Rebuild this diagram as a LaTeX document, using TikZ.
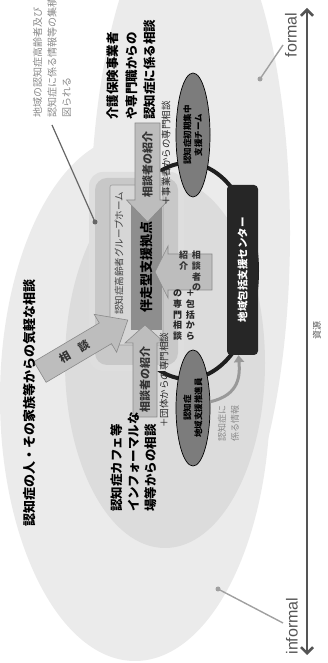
\documentclass[tikz,border=0pt]{standalone}
\usepackage{fontspec}
\setmainfont{Noto Sans CJK JP}
\newfontfamily\latinsans{Liberation Sans}
\usetikzlibrary{arrows.meta,shapes.geometric}
\definecolor{zoneA}{HTML}{EBEBEB}
\definecolor{zoneB}{HTML}{DCDCDC}
\definecolor{glowC}{HTML}{C8C8C8}
\definecolor{ghFill}{HTML}{D6D6D6}
\definecolor{ghEdge}{HTML}{9C9C9C}
\definecolor{hubFill}{HTML}{8E8E8E}
\definecolor{arrFill}{HTML}{BDBDBD}
\definecolor{arrEdge}{HTML}{8A8A8A}
\definecolor{ellFill}{HTML}{7C7C7C}
\definecolor{boxFill}{HTML}{262626}
\definecolor{leadGray}{HTML}{A0A0A0}
\definecolor{axisGray}{HTML}{555555}
\definecolor{noteGray}{HTML}{8A8A8A}
\begin{document}
\begin{tikzpicture}[x=1pt,y=-1pt,rotate=90,transform shape,
  blockarrow/.style={fill=arrFill,draw=arrEdge,line width=0.6pt,line join=miter},
  arrowtext/.style={font=\fontsize{11}{12}\selectfont\bfseries,text=black!80,inner sep=0pt},
  smalllabel/.style={font=\fontsize{9.5}{10}\selectfont,text=black!85,inner sep=0pt,anchor=west},
  tatetext/.style={rotate=-90,inner sep=0pt,font=\fontsize{9}{10}\selectfont\bfseries,text=black!80},
  bigtext/.style={font=\fontsize{12.5}{18}\selectfont\bfseries,align=left,inner sep=0pt,anchor=west},
  darkell/.style={ellipse,fill=ellFill,draw=black,line width=0.7pt,inner sep=0pt,align=center,font=\fontsize{8.5}{11}\selectfont\bfseries},
  ringline/.style={draw=black!88,line width=4pt},
  leader/.style={draw=leadGray,line width=1.4pt},
  leaderdot/.style={circle,fill=leadGray,inner sep=0pt,minimum size=5pt},
  notelead/.style={draw=black!60,line width=1.2pt},
  notedot/.style={circle,fill=black!60,inner sep=0pt,minimum size=5pt},
  infoarrow/.style={draw=black!40,line width=3pt,-{Triangle[length=7pt,width=10pt]}},
  axisline/.style={draw=axisGray,line width=2.5pt,{Straight Barb[length=6pt,width=12pt]}-{Straight Barb[length=6pt,width=12pt]}},
]
\useasboundingbox (0,0) rectangle (663,327);
\clip (0,0) rectangle (663,327);
% zones
\fill[zoneA] (430,190) ellipse [x radius=330pt, y radius=100pt];
\fill[zoneA] (265,135) ellipse [x radius=263pt, y radius=135pt];
\fill[zoneB] (300,165) ellipse [x radius=185pt, y radius=100pt];
% ring
\draw[ringline] (392,187) ellipse [x radius=108pt, y radius=70pt];
% glow
\fill[glowC!60, rounded corners=14pt] (292,89) rectangle (491,184);
\fill[glowC, rounded corners=12pt] (298,95) rectangle (485,178);
% group home box
\node[fill=ghFill,draw=ghEdge,line width=0.6pt,rounded corners=2pt,minimum width=160pt,minimum height=53pt,inner sep=0pt] (gh) at (398,136.5) {};
\node[font=\fontsize{9.5}{10}\selectfont,text=black!75,anchor=west,inner sep=0pt] (ghlabel) at (348,119) {認知症高齢者グループホーム};
\node[fill=hubFill,minimum width=125pt,minimum height=31pt,inner sep=0pt,font=\fontsize{13}{14}\selectfont\bfseries] (hub) at (395.5,146.5) {伴走型支援拠点};
% arrows
\filldraw[blockarrow] (540,135) -- (463,135) -- (463,126.5) -- (441,147.5) -- (463,168.5) -- (463,160) -- (540,160) -- cycle;
\node[arrowtext] (arrRtxt) at (498,147.5) {相談者の紹介};
\filldraw[blockarrow] (246,133) -- (320,133) -- (320,125) -- (338,145) -- (320,165) -- (320,157) -- (246,157) -- cycle;
\node[arrowtext] (arrLtxt) at (283,145) {相談者の紹介};
\filldraw[blockarrow] (373,212) -- (373,168) -- (365,168) -- (391,155) -- (417,168) -- (409,168) -- (409,212) -- cycle;
\node[tatetext] (arrUtxt) at (391,190) {%
  \begin{tabular}{@{}c@{\hspace{4pt}}c@{}}
  紹 & 相\\ 介 & 談\\ & 者\\ & の\\
  \end{tabular}};
\node[tatetext,text=black!85] (pkgTxt) at (347,184) {%
  \begin{tabular}{@{}c@{\hspace{4pt}}c@{}}
  の & ＋\\ 専 & 包\\ 門 & 括\\ 相 & か\\ 談 & ら\\
  \end{tabular}};
\begin{scope}[shift={(291,40)},rotate=-59.4]
  \filldraw[blockarrow] (0,-12) -- (76,-12) -- (76,-22) -- (102,0) -- (76,22) -- (76,12) -- (0,12) -- cycle;
  \node[arrowtext] (consultTxt) at (40,0) {相\hspace{1em}談};
\end{scope}
% labels near arrows
\node[smalllabel] (lblR) at (457,166) {＋事業者からの専門相談};
\node[smalllabel] (lblL) at (235,164) {＋団体からの専門相談};
% ellipses and center box
\node[darkell,minimum width=124pt,minimum height=34pt] (upEll) at (528,193) {認知症初期集中\\支援チーム};
\node[darkell,minimum width=116pt,minimum height=34pt] (lowEll) at (255,193) {認知症\\地域支援推進員};
\node[fill=boxFill,rounded corners=4pt,minimum width=170pt,minimum height=31pt,inner sep=0pt,text=white,font=\fontsize{10.5}{12}\selectfont\bfseries] (center) at (393,242.5) {地域包括支援センター};
% info arrow
\draw[infoarrow] (lowEll.-70) .. controls (268,240) and (288,240) .. ([yshift=4pt]center.west);
\node[font=\fontsize{9}{13}\selectfont,text=noteGray,align=left,anchor=west,inner sep=0pt] (infoTxt) at (221,228.5) {認知症に\\係る情報};
% big texts
\node[font=\fontsize{13}{14}\selectfont\bfseries,anchor=west,inner sep=0pt] (familyTxt) at (136,30) {認知症の人・その家族等からの気軽な相談};
\node[bigtext,font=\fontsize{12.5}{17}\selectfont\bfseries] (cafeTxt) at (151,134) {認知症カフェ等\\インフォーマルな\\場等からの相談};
\node[bigtext,font=\fontsize{12.5}{18.5}\selectfont\bfseries] (proTxt) at (543,131.5) {介護保険事業者\\や専門職からの\\認知症に係る相談};
\node[font=\fontsize{10}{14.5}\selectfont,text=noteGray,align=left,anchor=west,inner sep=0pt] (noteTxt) at (545,52) {地域の認知症高齢者及び\\認知症に係る情報等の集積が\\図られる};
% leaders
\node[notedot] (noteDot) at (441,95) {};
\coordinate (noteTail) at (538,52);
\draw[notelead] (noteTail) -- (noteDot.center);
\node[leaderdot] (formalDot) at (584,260) {};
\coordinate (formalTail) at (618,283);
\draw[leader] (formalTail) -- (formalDot.center);
\node[leaderdot] (informalDot) at (74,218) {};
\coordinate (informalTail) at (40,283);
\draw[leader] (informalTail) -- (informalDot.center);
% axis
\coordinate (axL) at (8,307);
\coordinate (axR) at (655,307);
\draw[axisline] (axL) -- (axR);
\node[font=\latinsans\fontsize{16}{16}\selectfont,text=axisGray,inner sep=0pt] (formalLbl) at (628,291) {formal};
\node[font=\latinsans\fontsize{16}{16}\selectfont,text=axisGray,inner sep=0pt] (informalLbl) at (37,292) {informal};
\node[font=\fontsize{9}{10}\selectfont,text=axisGray,inner sep=0pt] (resLbl) at (332,317) {資源};
\end{tikzpicture}
\end{document}
